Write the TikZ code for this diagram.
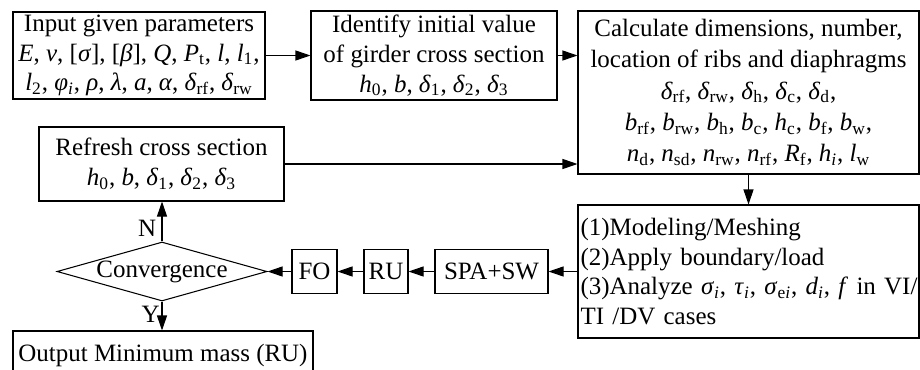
\documentclass[tikz,border=0pt]{standalone}
\usepackage{fontspec}
\setmainfont{Liberation Serif}
\usetikzlibrary{arrows.meta,shapes.geometric}
\newcommand{\sym}[2]{\textit{#1}\textsubscript{#2}}

\begin{document}
\begin{tikzpicture}[
  box/.style={draw, line width=0.6pt, align=center, inner sep=0pt},
  arr/.style={-{Triangle[length=0.3cm,width=0.2cm]}, line width=0.6pt},
  font=\fontsize{14.2}{17}\selectfont]
  \useasboundingbox (0,0) rectangle (18.4,7.38);
  % top row
  \node[box, minimum width=5.04cm, minimum height=1.74cm] (input) at (2.78,6.27)
    {Input given parameters\\
     \textit{E}, \textit{v}, [\textit{σ}], [\textit{β}], \textit{Q}, \sym{P}{t}, \textit{l}, \sym{l}{1},\\
     \sym{l}{2}, \sym{φ}{\textit{i}}, \textit{ρ}, \textit{λ}, \textit{a}, \textit{α}, \sym{δ}{rf}, \sym{δ}{rw}};
  \node[box, minimum width=4.92cm, minimum height=1.78cm] (identify) at (8.68,6.27)
    {Identify initial value\\ of girder cross section\\
     \sym{h}{0}, \textit{b}, \sym{δ}{1}, \sym{δ}{2}, \sym{δ}{3}};
  \node[box, minimum width=6.82cm, minimum height=3.26cm,
        font=\fontsize{14.2}{17.8}\selectfont] (calc) at (14.97,5.53)
    {Calculate dimensions, number,\\ location of ribs and diaphragms\\
     \sym{δ}{rf}, \sym{δ}{rw}, \sym{δ}{h}, \sym{δ}{c}, \sym{δ}{d},\\
     \sym{b}{rf}, \sym{b}{rw}, \sym{b}{h}, \sym{b}{c}, \sym{h}{c}, \sym{b}{f}, \sym{b}{w},\\
     \sym{n}{d}, \sym{n}{sd}, \sym{n}{rw}, \sym{n}{rf}, \sym{R}{f}, \sym{h}{\textit{i}}, \sym{l}{w}};
  % middle
  \node[box, minimum width=4.9cm, minimum height=1.48cm] (refresh) at (3.23,4.10)
    {Refresh cross section\\ \sym{h}{0}, \textit{b}, \sym{δ}{1}, \sym{δ}{2}, \sym{δ}{3}};
  % bottom row
  \node[box, align=left, text width=6.72cm, inner xsep=0.05cm, minimum height=2.66cm]
    (model) at (14.97,1.95)
    {(1)Modeling/Meshing\\ (2)Apply boundary/load\\
     \mbox{(3)Analyze \sym{σ}{\textit{i}}, \sym{τ}{\textit{i}}, \sym{σ}{e\textit{i}}, \sym{d}{\textit{i}}, \textit{f} in VI/}\\
     TI /DV cases};
  \node[box, minimum width=2.26cm, minimum height=0.88cm] (spa) at (9.83,1.95) {SPA+SW};
  \node[box, minimum width=0.88cm, minimum height=0.88cm] (ru) at (7.72,1.95) {RU};
  \node[box, minimum width=0.9cm, minimum height=0.88cm] (fo) at (6.29,1.95) {FO};
  \node[draw, line width=0.6pt, diamond, aspect=3.56, inner sep=0pt,
        minimum width=4.2cm, minimum height=1.18cm] (conv) at (3.24,1.95)
    {\makebox[0pt]{Convergence}};
  \node[box, minimum width=6.0cm, minimum height=0.96cm] (output) at (3.26,0.28)
    {Output Minimum mass (RU)};
  % connectors
  \draw[arr] (input) -- (input.east -| identify.west);
  \draw[arr] (identify.east) -- (identify.east -| calc.west);
  \draw[arr] (refresh.east) -- (refresh.east -| calc.west);
  \draw[arr] (calc) -- (model);
  \draw[arr] (model) -- (spa);
  \draw[arr] (spa) -- (ru);
  \draw[arr] (ru) -- (fo);
  \draw[arr] (fo) -- (conv);
  \draw[arr] (conv.north) -- node[pos=0.34, left, inner sep=3pt] {N} (conv.north |- refresh.south);
  \draw[arr] (conv.south) -- node[pos=0.43, left, inner sep=1pt] {Y} (conv.south |- output.north);
\end{tikzpicture}
\end{document}
